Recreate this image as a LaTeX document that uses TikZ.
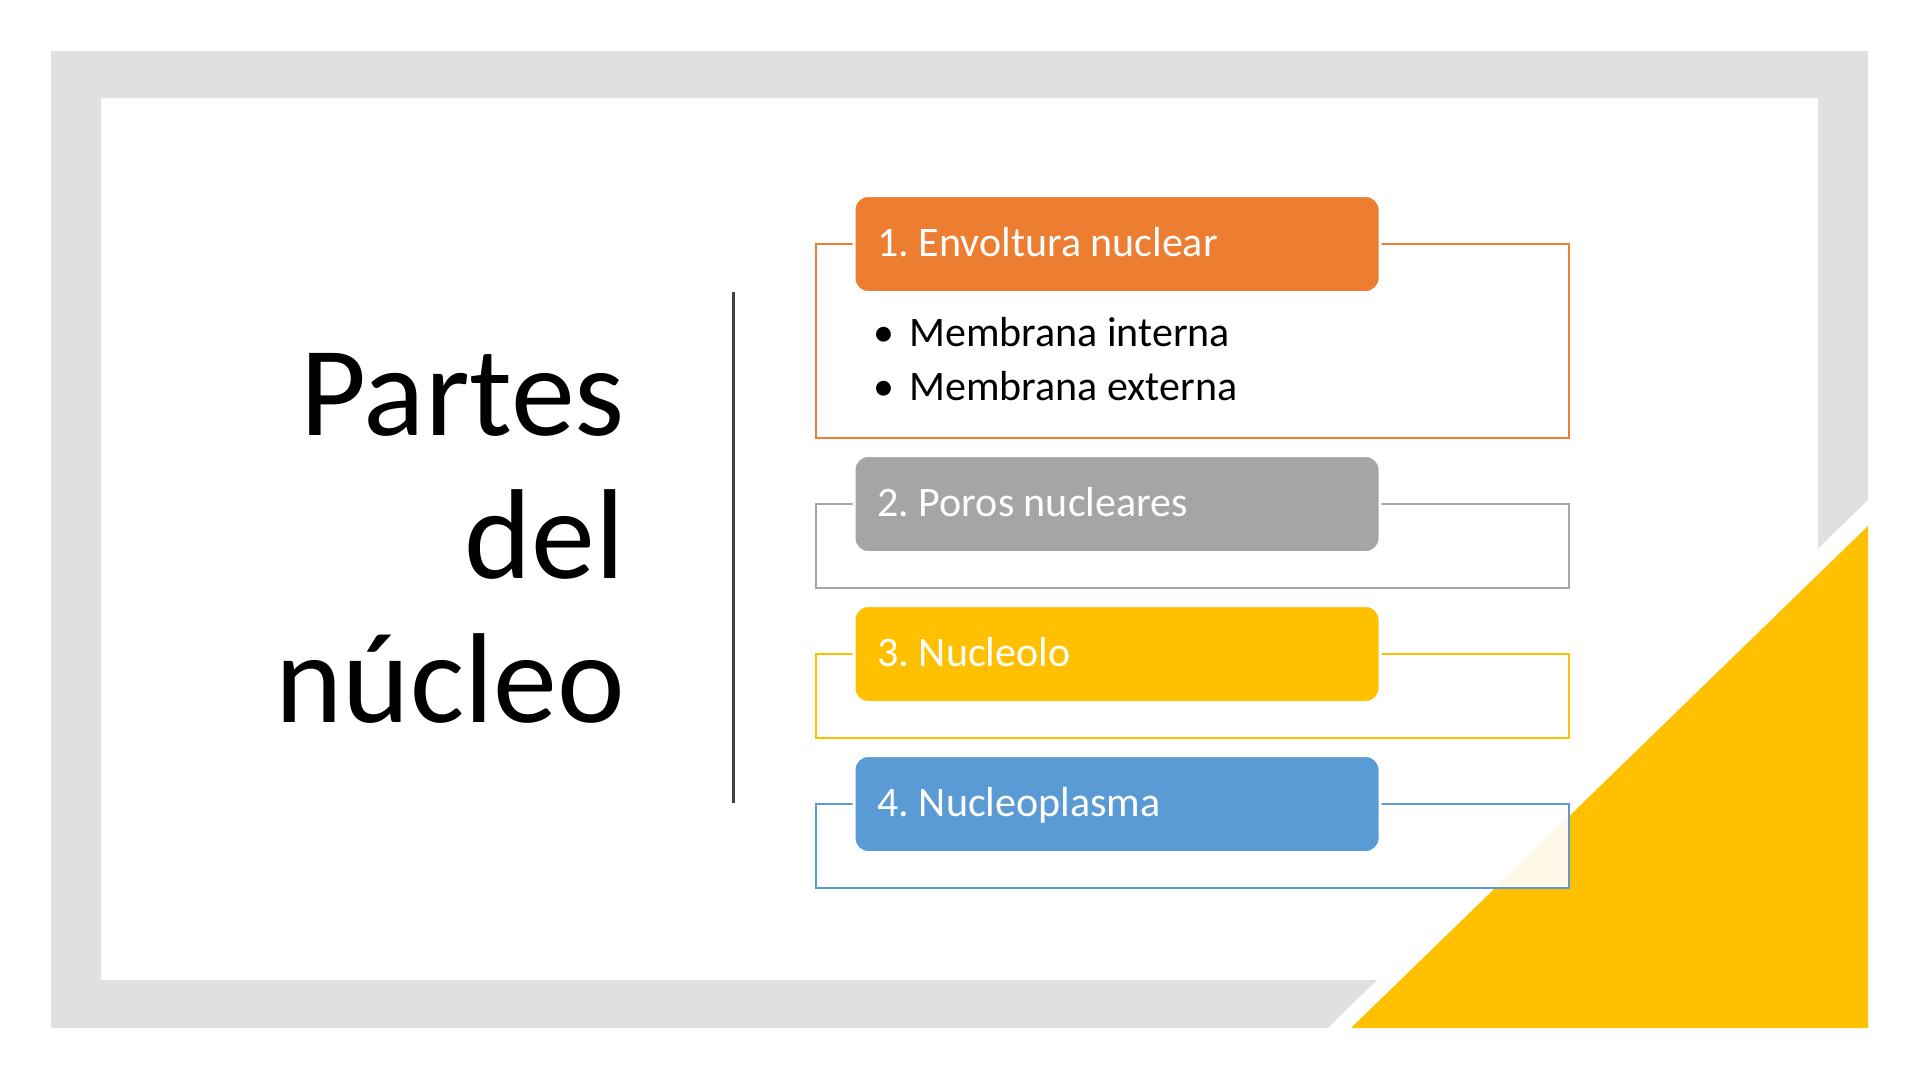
\documentclass[tikz,border=0pt]{standalone}
\usepackage{fontspec}
\setmainfont{Carlito}
\definecolor{framegray}{HTML}{E0E0E0}
\definecolor{accyellow}{HTML}{FFC000}
\definecolor{c1}{HTML}{ED7D31}
\definecolor{c2}{HTML}{A5A5A5}
\definecolor{c3}{HTML}{FFC000}
\definecolor{c4}{HTML}{5B9BD5}
\definecolor{rule}{HTML}{404040}
\newcommand\hdrtext[1]{\makebox[479pt][l]{#1}}
\begin{document}
\frenchspacing
\begin{tikzpicture}[x=1pt,y=-1pt,
  ttl/.style={anchor=base east, inner sep=0pt, font=\fontsize{128pt}{143pt}\selectfont, text=black},
  outbox/.style={draw=#1, line width=2pt, fill=white, fill opacity=0.9, draw opacity=1,
    minimum width=753pt, inner sep=0pt, anchor=north west},
  hdr/.style={fill=#1, draw=white, line width=3pt, rounded corners=14pt,
    minimum width=526pt, minimum height=97pt, inner xsep=23pt, inner ysep=0pt,
    text height=30.5pt, text depth=6pt,
    font=\fontsize{42pt}{50pt}\selectfont\frenchspacing, text=white, anchor=north west},
  bul/.style={anchor=base west, inner sep=0pt, font=\fontsize{42pt}{54pt}\selectfont, text=black}
]
\useasboundingbox (0,0) rectangle (1920,1080);
\fill[white] (0,0) rectangle (1920,1080);
% frame
\fill[framegray, even odd rule] (51,51) rectangle (1868,1028) (101,98) rectangle (1818,980);
\fill[white] (1868,500) -- (1868,1028) -- (1328,1028) -- cycle;
\fill[accyellow] (1868,526) -- (1868,1028) -- (1351,1028) -- cycle;
% divider
\draw[rule, line width=3pt] (733,292) -- (733,803);
% title
\node[ttl] (t1) at (625,435) {Partes};
\node[ttl] (t2) at (625,578) {del};
\node[ttl] (t3) at (625,722) {núcleo};
% outline boxes
\node[outbox=c1, minimum height=194pt] (o1) at (815,243) {};
\node[outbox=c2, minimum height=84pt] (o2) at (815,503) {};
\node[outbox=c3, minimum height=84pt] (o3) at (815,653) {};
\node[outbox=c4, minimum height=84pt] (o4) at (815,803) {};
% header boxes
\node[hdr=c1] (h1) at (852.5,194) {\hdrtext{1. Envoltura nuclear}};
\node[hdr=c2] (h2) at (852.5,454) {\hdrtext{2. Poros nucleares}};
\node[hdr=c3] (h3) at (852.5,604) {\hdrtext{3. Nucleolo}};
\node[hdr=c4] (h4) at (852.5,754) {\hdrtext{4. Nucleoplasma}};
% bullets
\node[bul] (b1) at (873,346) {\makebox[36pt][l]{•}Membrana interna};
\node[bul] (b2) at (873,400) {\makebox[36pt][l]{•}Membrana externa};
\end{tikzpicture}
\end{document}
